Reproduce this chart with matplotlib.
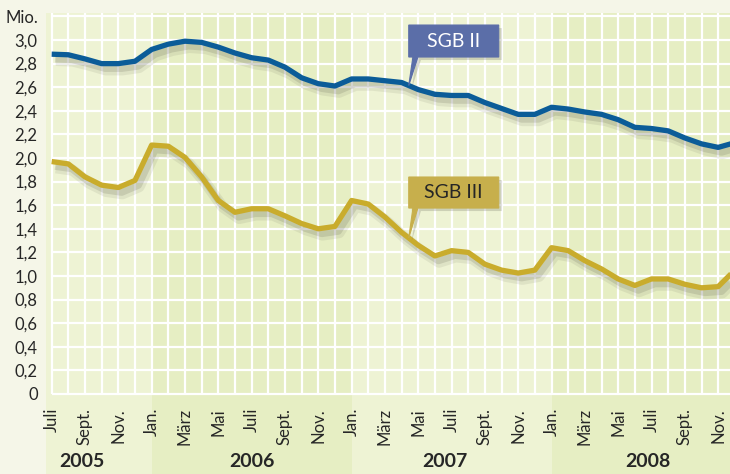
import numpy as np
import matplotlib
matplotlib.use("Agg")
import matplotlib.pyplot as plt
import matplotlib.patheffects as pe
from matplotlib.patches import Polygon
import matplotlib.transforms as mtransforms

plt.rcParams['font.family'] = ['Lato', 'DejaVu Sans']

# ---------------- data ----------------
month_names = ["Juli", "Aug.", "Sept.", "Okt.", "Nov.", "Dez.",
               "Jan.", "Feb.", "März", "April", "Mai", "Juni"]
years = ["2005", "2006", "2007", "2008"]
year_label_pos = [1.8, 12.0, 23.6, 35.8]
year_bounds = [6, 18, 30]

sgb2 = [2.88, 2.875, 2.84, 2.80, 2.80, 2.82, 2.92, 2.965, 2.99, 2.98,
        2.94, 2.89, 2.85, 2.83, 2.77, 2.68, 2.63, 2.61, 2.67, 2.67,
        2.655, 2.64, 2.58, 2.54, 2.53, 2.53, 2.47, 2.42, 2.37, 2.37,
        2.43, 2.415, 2.39, 2.37, 2.325, 2.26, 2.25, 2.23, 2.17, 2.12,
        2.09, 2.13]
sgb3 = [1.97, 1.95, 1.84, 1.77, 1.75, 1.81, 2.11, 2.10, 2.005, 1.84,
        1.64, 1.54, 1.57, 1.57, 1.51, 1.445, 1.40, 1.42, 1.64, 1.61,
        1.50, 1.37, 1.26, 1.17, 1.215, 1.20, 1.10, 1.05, 1.025, 1.05,
        1.24, 1.215, 1.13, 1.06, 0.975, 0.92, 0.975, 0.975, 0.93, 0.90,
        0.91, 1.05]
y_ticks = [0, 0.2, 0.4, 0.6, 0.8, 1.0, 1.2, 1.4, 1.6, 1.8, 2.0, 2.2, 2.4, 2.6, 2.8, 3.0]
series_names = ["SGB II", "SGB III"]

# ---------------- style ----------------
BG = "#f5f6e8"
LIGHT = "#eef3d4"
DARK = "#e6eec3"
BLUE = "#0b5c98"
GOLD = "#c9ac2c"
BOX2 = "#5b6ea8"
BOX3 = "#c7af4c"
TXT = "#262626"

months = np.arange(len(sgb2))
W, H = 730, 474
fig = plt.figure(figsize=(W / 100, H / 100), dpi=100)
fig.patch.set_facecolor(BG)
ax = fig.add_axes([46 / W, (H - 394) / H, 684 / W, (394 - 13) / H])
ax.set_facecolor(BG)
xmin, xmax = -0.34, 40.71
ymax = 3.229
ax.set_xlim(xmin, xmax)
ax.set_ylim(0, ymax)
for s in ax.spines.values():
    s.set_visible(False)

# year bands (extend below the axis to the figure bottom)
edges = [xmin] + year_bounds + [xmax + 2]
for i in range(len(edges) - 1):
    ax.axvspan(edges[i], edges[i + 1], ymin=-0.22, ymax=1,
               color=LIGHT if i % 2 == 0 else DARK, lw=0, clip_on=False, zorder=0)

# grid
ax.vlines(months[:-1], 0, ymax, color="white", lw=1.6, zorder=1)
ax.hlines(np.arange(0, 3.21, 0.2), 0, xmax, color="white", lw=1.6, zorder=1, clip_on=False)

def shadow():
    return [pe.SimpleLineShadow(offset=(3, -4.5), shadow_color="#6f7060", alpha=0.12, linewidth=8),
            pe.SimpleLineShadow(offset=(2.5, -3.5), shadow_color="#5f6050", alpha=0.18, linewidth=5),
            pe.Normal()]

ax.plot(months, sgb2, color=BLUE, lw=3.8, solid_joinstyle="round", solid_capstyle="butt",
        path_effects=shadow(), zorder=4)
ax.plot(months, sgb3, color=GOLD, lw=3.8, solid_joinstyle="round", solid_capstyle="butt",
        path_effects=shadow(), zorder=4)

# ticks
ax.set_yticks(y_ticks)
ax.set_yticklabels([("%.1f" % v).replace(".", ",") if v > 0 else "0" for v in y_ticks],
                   fontsize=12, color=TXT)
ax.tick_params(axis="y", length=0, pad=6)
xt = months[:-1:2]
ax.set_xticks(xt)
ax.set_xticklabels([month_names[m % 12] for m in xt], rotation=90, fontsize=12, color=TXT)
ax.tick_params(axis="x", length=0, pad=10)

trans = mtransforms.blended_transform_factory(ax.transData, ax.transAxes)
for yl, xp in zip(years, year_label_pos):
    ax.text(xp, -0.178, yl, transform=trans, ha="center", va="center",
            fontsize=14, fontweight="bold", color=TXT)

fig.text(38 / W, 1 - 18 / H, "Mio.", ha="right", va="center", fontsize=12, color=TXT)

# callouts
def callout(name, series, tipx, y0, y1, face, tcolor):
    tipy = float(np.interp(tipx, months, series))
    x0, x1 = tipx, tipx + 5.4
    pts = [(x0, y1), (x1, y1), (x1, y0), (x0 + 0.55, y0), (tipx, tipy), (x0 + 0.25, y0), (x0, y0)]
    sh = Polygon(pts, closed=True, facecolor="#55564a", alpha=0.22, lw=0, zorder=5,
                 transform=ax.transData + mtransforms.ScaledTranslation(3 / 100, -3 / 100, fig.dpi_scale_trans))
    ax.add_patch(sh)
    ax.add_patch(Polygon(pts, closed=True, facecolor=face, edgecolor=face, lw=0.8, zorder=6))
    ax.text((x0 + x1) / 2, (y0 + y1) / 2, name, ha="center", va="center", fontsize=14,
            color=tcolor, zorder=7)

callout(series_names[0], sgb2, 21.43, 2.856, 3.127, BOX2, "white")
callout(series_names[1], sgb3, 21.43, 1.576, 1.839, BOX3, TXT)

fig.savefig("out.png", dpi=100, facecolor=fig.get_facecolor())
